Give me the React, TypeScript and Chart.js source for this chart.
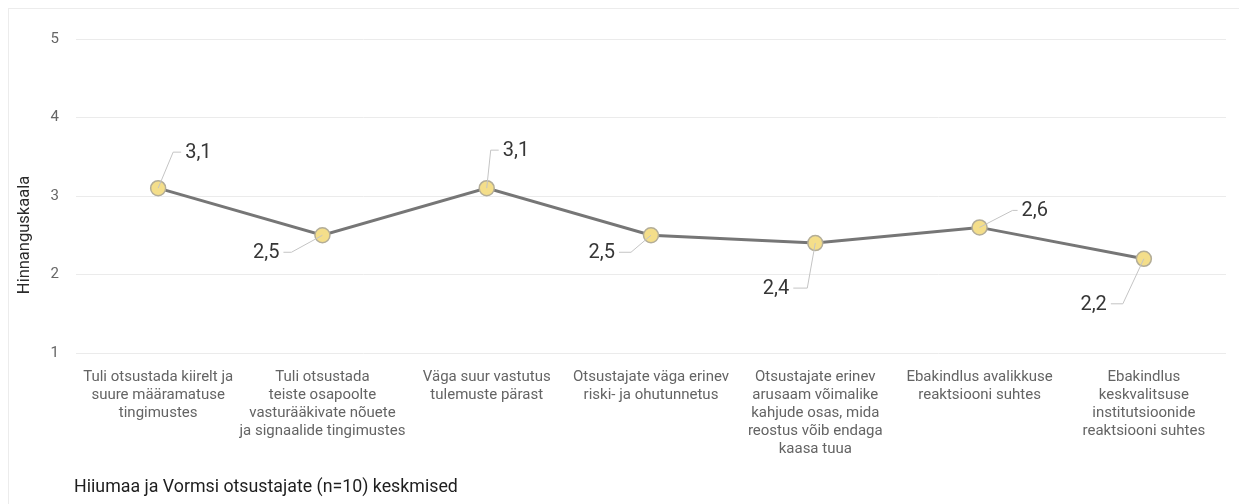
import { useEffect, useRef } from "react";
import { Chart, registerables } from "chart.js";

Chart.register(...registerables);

// Survey items (x categories), wrapped as they appear under the axis
const categories: string[][] = [
  ["Tuli otsustada kiirelt ja", "suure määramatuse", "tingimustes"],
  ["Tuli otsustada", "teiste osapoolte", "vasturääkivate nõuete", "ja signaalide tingimustes"],
  ["Väga suur vastutus", "tulemuste pärast"],
  ["Otsustajate väga erinev", "riski- ja ohutunnetus"],
  ["Otsustajate erinev", "arusaam võimalike", "kahjude osas, mida", "reostus võib endaga", "kaasa tuua"],
  ["Ebakindlus avalikkuse", "reaktsiooni suhtes"],
  ["Ebakindlus", "keskvalitsuse", "institutsioonide", "reaktsiooni suhtes"],
];

// Mean ratings of the decision makers
const averages: number[] = [3.1, 2.5, 3.1, 2.5, 2.4, 2.6, 2.2];

// Rating scale ticks
const yTicks: number[] = [1, 2, 3, 4, 5];

const axisTitle = "Hinnanguskaala";
const footnote = "Hiiumaa ja Vormsi otsustajate (n=10) keskmised";

// Leader-line placement for each value label: elbow offset from the point,
// length of the horizontal run, and which side the text sits on.
const leaderPlacement = [
  { dx: 15, dy: -36, run: 8, side: 1 },
  { dx: -31, dy: 17, run: 8, side: -1 },
  { dx: 4, dy: -38, run: 8, side: 1 },
  { dx: -20, dy: 17, run: 12, side: -1 },
  { dx: -8, dy: 45, run: 14, side: -1 },
  { dx: 33, dy: -17, run: 5, side: 1 },
  { dx: -21, dy: 45, run: 12, side: -1 },
];

const FONT = "Roboto, 'Noto Sans', Arial, sans-serif";

const formatValue = (v: number) => v.toFixed(1).replace(".", ",");

const valueLabels = {
  id: "valueLabels",
  afterDatasetsDraw(chart: any) {
    const { ctx } = chart;
    const meta = chart.getDatasetMeta(0);
    ctx.save();
    meta.data.forEach((pt: any, i: number) => {
      const p = leaderPlacement[i];
      const ex = pt.x + p.dx;
      const ey = pt.y + p.dy;
      const hx = ex + p.side * p.run;
      ctx.beginPath();
      ctx.moveTo(pt.x, pt.y);
      ctx.lineTo(ex, ey);
      ctx.lineTo(hx, ey);
      ctx.strokeStyle = "#c4c4c4";
      ctx.lineWidth = 1;
      ctx.stroke();
      ctx.font = `20px ${FONT}`;
      ctx.fillStyle = "#363636";
      ctx.textBaseline = "middle";
      ctx.textAlign = p.side > 0 ? "left" : "right";
      ctx.fillText(formatValue(averages[i]), hx + p.side * 4, ey + 1);
    });
    ctx.restore();
  },
  afterDraw(chart: any) {
    const { ctx, chartArea } = chart;
    ctx.save();
    // vertical axis title
    ctx.translate(16, 226);
    ctx.rotate(-Math.PI / 2);
    ctx.font = `16.5px ${FONT}`;
    ctx.fillStyle = "#2a2a2a";
    ctx.textAlign = "center";
    ctx.textBaseline = "middle";
    ctx.fillText(axisTitle, 0, 0);
    ctx.restore();

    ctx.save();
    ctx.font = `17.8px ${FONT}`;
    ctx.fillStyle = "#1e1e1e";
    ctx.textAlign = "left";
    ctx.textBaseline = "middle";
    ctx.fillText(footnote, chartArea.left - 2, 479);
    ctx.restore();
  },
};

export default function App() {
  const canvasRef = useRef<HTMLCanvasElement | null>(null);

  useEffect(() => {
    if (!canvasRef.current) return;
    const chart = new Chart(canvasRef.current, {
      type: "line",
      data: {
        labels: categories,
        datasets: [
          {
            data: averages,
            borderColor: "#767676",
            borderWidth: 3,
            pointRadius: 7.5,
            pointHoverRadius: 7.5,
            pointBackgroundColor: "#f4de8a",
            pointBorderColor: "#b3ad98",
            pointBorderWidth: 1.5,
            tension: 0,
          },
        ],
      },
      options: {
        responsive: false,
        devicePixelRatio: 1,
        animation: false,
        layout: { padding: { top: 30, right: 18, bottom: 0, left: 0 } },
        plugins: {
          legend: { display: false },
          tooltip: { enabled: false },
          title: { display: false },
        },
        scales: {
          x: {
            offset: true,
            grid: { display: false, drawTicks: false },
            border: { display: false },
            ticks: {
              autoSkip: false,
              maxRotation: 0,
              minRotation: 0,
              padding: 15,
              color: "#646464",
              font: { family: FONT, size: 15, lineHeight: 1.2 },
            },
            afterFit: (scale: any) => {
              scale.height = 152;
            },
          },
          y: {
            min: 1,
            max: 5,
            grid: { color: "#ebebeb", lineWidth: 1, drawTicks: false },
            border: { display: false },
            ticks: {
              padding: 17,
              color: "#666666",
              font: { family: FONT, size: 15 },
            },
            afterBuildTicks: (scale: any) => {
              scale.ticks = yTicks.map((v) => ({ value: v }));
            },
            afterFit: (scale: any) => {
              scale.width = 67;
            },
          },
        },
      },
      plugins: [valueLabels],
    });
    return () => chart.destroy();
  }, []);

  return (
    <div
      style={{
        width: 1235,
        height: 500,
        border: "1px solid #ececec",
        background: "#ffffff",
      }}
    >
      <canvas ref={canvasRef} width={1235} height={496} style={{ display: "block" }} />
    </div>
  );
}
